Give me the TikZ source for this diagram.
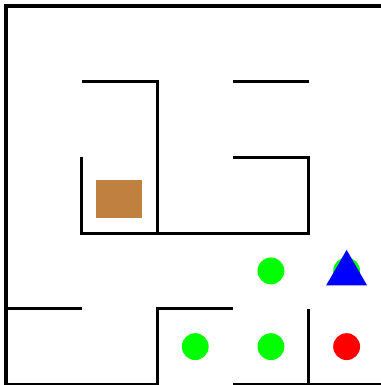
\documentclass[tikz,border=0pt]{standalone}
\usepackage{tikz}
\usetikzlibrary{shapes.geometric}
\usepackage{xcolor}

\definecolor{boxbrown}{RGB}{192,128,64}

\begin{document}
\begin{tikzpicture}[
  x=2cm, y=-2cm,
  wall/.style={black, line width=2.3pt, line join=miter},
  gem/.style={circle, fill=green, draw=none, inner sep=0pt, minimum size=0.71cm},
  goal/.style={circle, fill=red, draw=none, inner sep=0pt, minimum size=0.71cm},
  agent/.style={regular polygon, regular polygon sides=3, fill=blue, draw=none,
                inner sep=0pt, minimum size=1.25cm},
  crate/.style={rectangle, fill=boxbrown, draw=none, inner sep=0pt,
                minimum width=1.22cm, minimum height=1.0cm}
]
  \def\xmin{-0.079} \def\xmax{4.954}
  \def\ymin{-0.079} \def\ymax{5.007}
  \useasboundingbox (\xmin,\ymin) rectangle (\xmax,\ymax);

  %--- outer walls ---
  \draw[wall] (3,4) -- (2,4) -- (2,5) -- (0,5) -- (0,0) -- (\xmax,0);
  \draw[wall] (3,5) -- (5,5);

  %--- inner walls ---
  \draw[wall] (1,1) -- (2,1) -- (2,3);
  \draw[wall] (3,1) -- (4,1);
  \draw[wall] (1,2) -- (1,3) -- (4,3) -- (4,2) -- (3,2);
  \draw[wall] (0,4) -- (1,4);
  \draw[wall] (4,4) -- (4,5);

  %--- objects ---
  \node[crate] (box) at (1.49,2.55) {};
  \node[gem] (g1) at (3.5,3.5) {};
  \node[gem] (g2) at (4.5,3.5) {};
  \node[gem] (g3) at (2.5,4.5) {};
  \node[gem] (g4) at (3.5,4.5) {};
  \node[goal] (exit) at (4.5,4.5) {};
  \node[agent] (bot) at (4.5,3.535) {};
\end{tikzpicture}
\end{document}
